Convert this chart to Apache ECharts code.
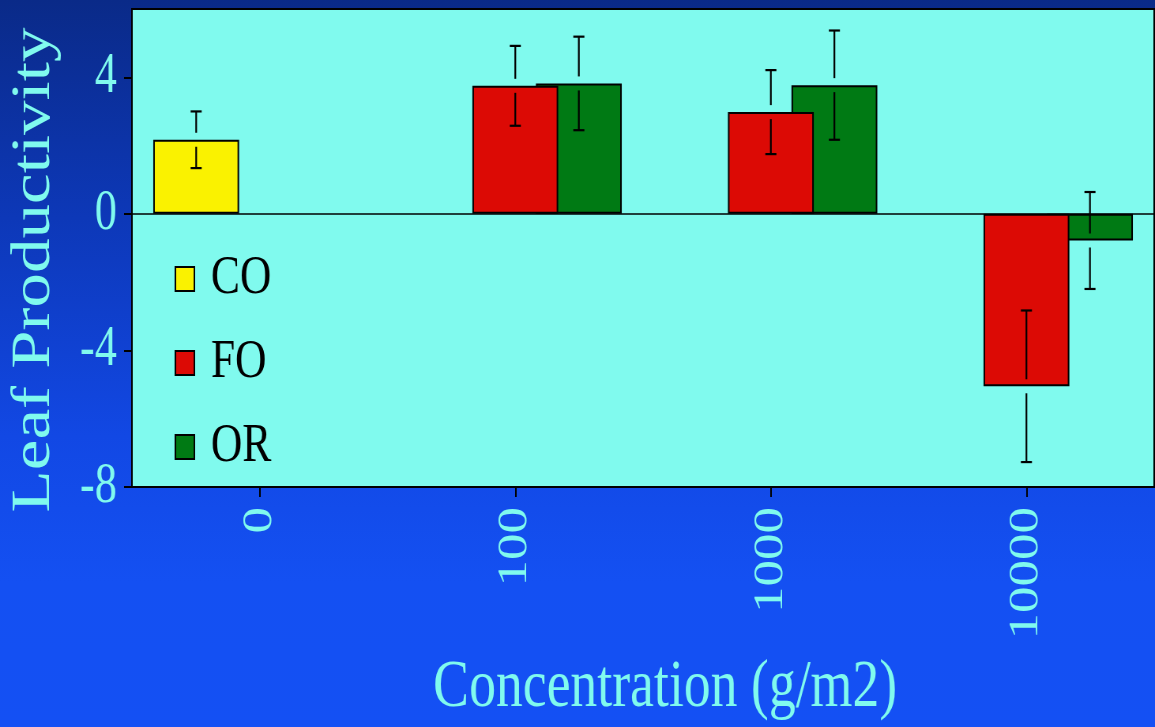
<!DOCTYPE html>
<html>
<head>
<meta charset="utf-8">
<script src="https://cdn.jsdelivr.net/npm/echarts@6/dist/echarts.min.js"></script>
<style>
  html, body { margin: 0; padding: 0; width: 1155px; height: 727px; overflow: hidden;
    background: linear-gradient(to bottom, #0A2A88 0%, #0D38B8 30%, #1248E4 60%, #1450F2 80%, #1450F4 100%); }
  #chart { width: 1462px; height: 727px; transform: scaleX(0.79); transform-origin: 0 0; }
</style>
</head>
<body>
<div id="chart"></div>
<script>
// ---- data ----
const categories = ['0', '100', '1000', '10000'];
const seriesNames = ['CO', 'FO', 'OR'];
const coValues = [2.17, null, null, null];
const coErrors = [0.83, null, null, null];
const foValues = [null, 3.75, 2.98, -5.05];
const foErrors = [null, 1.17, 1.23, 2.22];
const orValues = [null, 3.82, 3.77, -0.78];
const orErrors = [null, 1.37, 1.60, 1.42];
const yTicks = [-8, -4, 0, 4];

// ---- styles ----
const FONT = "'Liberation Serif', 'Times New Roman', serif";
const CYAN = '#80FAEE';
const colors = { CO: '#FAF200', FO: '#DC0A05', OR: '#007A14' };
const BAR_W = 0.336;          // fraction of category band
const BAR_GAP = -0.26;        // fraction of bar width
const SLOT = BAR_W * (1 + BAR_GAP);
const offsets = { CO: -SLOT, FO: 0, OR: SLOT };

function errData(vals, errs) {
  const out = [];
  vals.forEach((v, i) => { if (v != null && errs[i] != null) out.push([i, v, errs[i]]); });
  return out;
}

function makeErrRender(off) {
  return function (params, api) {
    const i = api.value(0), v = api.value(1), e = api.value(2);
    const band = api.size([1, 0])[0];
    const c = api.coord([i, v]);
    const x = c[0] + off * band;
    const yTop = api.coord([i, v + e])[1];
    const yBot = api.coord([i, v - e])[1];
    const gap = 7, cap = 7;
    const style = { stroke: '#000', lineWidth: 2.2 };
    return {
      type: 'group',
      children: [
        { type: 'line', shape: { x1: x, y1: yTop, x2: x, y2: c[1] - gap }, style },
        { type: 'line', shape: { x1: x, y1: c[1] + gap, x2: x, y2: yBot }, style },
        { type: 'line', shape: { x1: x - cap, y1: yTop, x2: x + cap, y2: yTop }, style },
        { type: 'line', shape: { x1: x - cap, y1: yBot, x2: x + cap, y2: yBot }, style }
      ]
    };
  };
}

function barSeries(name, data, z) {
  return {
    name, type: 'bar', data, z,
    barWidth: (BAR_W * 100) + '%', barGap: (BAR_GAP * 100) + '%',
    itemStyle: { color: colors[name], borderColor: '#000', borderWidth: 2 },
    emphasis: { disabled: true },
    animation: false
  };
}

function errSeries(name, vals, errs) {
  return {
    name: name + ' error', type: 'custom', z: 10,
    renderItem: makeErrRender(offsets[name]),
    data: errData(vals, errs), animation: false, silent: true
  };
}

const chart = echarts.init(document.getElementById('chart'), null, { renderer: 'canvas' });
const zeroLine = {
  silent: true, symbol: 'none', label: { show: false },
  lineStyle: { color: '#000', width: 1.6, type: 'solid' },
  data: [{ yAxis: 0 }], animation: false
};
const coS = barSeries('CO', coValues, 2);
coS.markLine = zeroLine;

chart.setOption({
  backgroundColor: 'transparent',
  animation: false,
  textStyle: { fontFamily: FONT },
  grid: {
    left: 167, right: 1, top: 9, bottom: 240,
    show: true, backgroundColor: CYAN, borderColor: '#000', borderWidth: 2,
    containLabel: false
  },
  legend: {
    data: seriesNames, orient: 'vertical', left: 216, top: 246,
    itemWidth: 24, itemHeight: 24, itemGap: 28, icon: 'rect', selectedMode: false,
    textStyle: { fontFamily: FONT, fontSize: 55, color: '#000', lineHeight: 56, padding: [0, 0, 0, 16] },
    itemStyle: { borderColor: '#000', borderWidth: 2 }
  },
  xAxis: {
    type: 'category', data: categories,
    name: 'Concentration (g/m2)', nameLocation: 'middle', nameGap: 167,
    nameTextStyle: { fontFamily: FONT, fontSize: 68, color: CYAN, padding: [0, 0, 0, 56] },
    axisLine: { show: true, onZero: false, lineStyle: { color: '#000', width: 2 } },
    axisTick: { show: true, alignWithLabel: true, length: 10, lineStyle: { color: '#000', width: 2 } },
    axisLabel: { rotate: 90, margin: 20, fontFamily: FONT, fontSize: 53, color: CYAN },
    splitLine: { show: false }
  },
  yAxis: {
    type: 'value', min: -8, max: 6, interval: 4,
    name: 'Leaf Productivity', nameLocation: 'middle', nameGap: 89,
    nameTextStyle: { fontFamily: FONT, fontSize: 69, color: CYAN, padding: [0, 44, 0, 0] },
    axisLine: { show: true, lineStyle: { color: '#000', width: 2 } },
    axisTick: { show: true, length: 10, lineStyle: { color: '#000', width: 2 }, customValues: yTicks },
    axisLabel: {
      margin: 19, fontFamily: FONT, fontSize: 56, color: CYAN, customValues: yTicks,
      padding: [0, 0, 9, 0],
      formatter: v => (yTicks.indexOf(v) >= 0 ? String(v) : '')
    },
    splitLine: { show: false }
  },
  series: [
    coS,
    barSeries('FO', foValues, 3),
    barSeries('OR', orValues, 2),
    errSeries('CO', coValues, coErrors),
    errSeries('FO', foValues, foErrors),
    errSeries('OR', orValues, orErrors)
  ]
});
</script>
</body>
</html>
